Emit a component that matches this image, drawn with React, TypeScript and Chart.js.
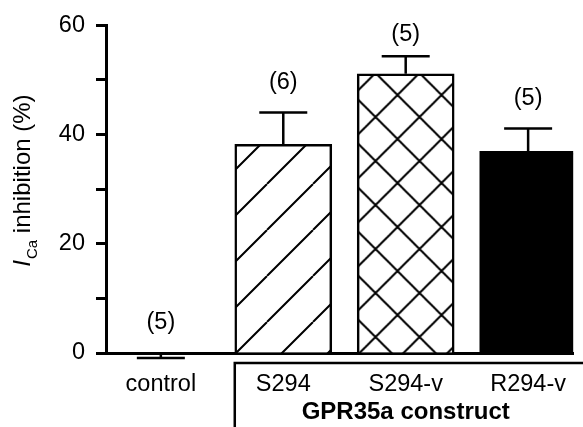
import React, { useEffect, useRef } from 'react';
import { Chart, registerables } from 'chart.js';

Chart.register(...registerables);

// ---- data ----
const categories = ['control', 'S294', 'S294-v', 'R294-v'];
const meanInhibition = [-0.2, 38.2, 51.1, 36.9];
const semInhibition = [0.7, 5.8, 3.2, 4.2];
const cellCounts = [5, 6, 5, 5];
const groupTitle = 'GPR35a construct';
const groupMembers = ['S294', 'S294-v', 'R294-v'];
const yMin = 0;
const yMax = 60;
const yStep = 10;
const yLabelStep = 20;

const FONT = '"Liberation Sans", Arial, Helvetica, sans-serif';

function makeHatch(size: number, lw: number, slash: boolean, back: boolean, dx: number, dy: number) {
  const c = document.createElement('canvas');
  c.width = size;
  c.height = size;
  const g = c.getContext('2d')!;
  g.fillStyle = '#ffffff';
  g.fillRect(0, 0, size, size);
  g.strokeStyle = '#000000';
  g.lineWidth = lw;
  g.beginPath();
  for (const k of [-1, 0, 1]) {
    if (slash) {
      g.moveTo(k * size, size);
      g.lineTo(k * size + size, 0);
    }
    if (back) {
      g.moveTo(k * size, 0);
      g.lineTo(k * size + size, size);
    }
  }
  g.stroke();
  const p = g.createPattern(c, 'repeat')!;
  try {
    p.setTransform(new DOMMatrix().translate(dx, dy));
  } catch (e) {
    /* ignore */
  }
  return p;
}

export default function App() {
  const ref = useRef<HTMLCanvasElement | null>(null);

  useEffect(() => {
    const canvas = ref.current;
    if (!canvas) return;

    const fills = [
      '#ffffff',
      makeHatch(46, 2, true, false, 37, 0),
      makeHatch(44, 2, true, true, 1.5, 7),
      '#000000',
    ];

    const overlay = {
      id: 'overlay',
      afterDatasetsDraw(chart: any) {
        const { ctx, scales } = chart;
        const y = scales.y;
        const meta = chart.getDatasetMeta(0);
        ctx.save();
        ctx.strokeStyle = '#000';
        ctx.lineWidth = 2.5;
        meta.data.forEach((bar: any, i: number) => {
          const m = meanInhibition[i];
          const e = semInhibition[i];
          const dir = m < 0 ? -1 : 1;
          const y0 = y.getPixelForValue(m);
          const y1 = y.getPixelForValue(m + dir * e);
          ctx.beginPath();
          ctx.moveTo(bar.x, y0);
          ctx.lineTo(bar.x, y1);
          ctx.moveTo(bar.x - 24, y1);
          ctx.lineTo(bar.x + 24, y1);
          ctx.stroke();
        });
        ctx.restore();
      },
      afterDraw(chart: any) {
        const { ctx, scales, chartArea } = chart;
        const x = scales.x;
        const y = scales.y;
        const meta = chart.getDatasetMeta(0);
        ctx.save();
        // n labels
        ctx.fillStyle = '#000';
        ctx.font = `23.5px ${FONT}`;
        ctx.textAlign = 'center';
        ctx.textBaseline = 'middle';
        meta.data.forEach((bar: any, i: number) => {
          const m = meanInhibition[i];
          const e = semInhibition[i];
          const topVal = m < 0 ? 0 : m + e;
          const cy = Math.max(35, y.getPixelForValue(topVal) - 30);
          ctx.fillText(`(${cellCounts[i]})`, bar.x, cy);
        });

        // group bracket
        const firstIdx = categories.indexOf(groupMembers[0]);
        const firstBar: any = meta.data[firstIdx];
        const bx = firstBar.x - firstBar.width / 2;
        const by = chartArea.bottom + 10;
        ctx.strokeStyle = '#000';
        ctx.lineWidth = 2.5;
        ctx.beginPath();
        ctx.moveTo(chart.width + 2, by);
        ctx.lineTo(bx, by);
        ctx.lineTo(bx, chart.height + 2);
        ctx.stroke();

        // group title
        const midIdx = categories.indexOf(groupMembers[Math.floor(groupMembers.length / 2)]);
        ctx.font = `bold 24px ${FONT}`;
        ctx.textBaseline = 'alphabetic';
        ctx.fillText(groupTitle, x.getPixelForValue(midIdx), chartArea.bottom + 66);

        // y-axis title: I_Ca inhibition (%)
        ctx.translate(30, (chartArea.top + chartArea.bottom) / 2 - 8);
        ctx.rotate(-Math.PI / 2);
        ctx.textAlign = 'left';
        const fMain = `24px ${FONT}`;
        const fItal = `italic 24px ${FONT}`;
        const fSub = `15px ${FONT}`;
        ctx.font = fItal;
        const w1 = ctx.measureText('I').width;
        ctx.font = fSub;
        const w2 = ctx.measureText('Ca').width;
        ctx.font = fMain;
        const w3 = ctx.measureText(' inhibition (%)').width;
        let px = -(w1 + w2 + w3) / 2;
        ctx.font = fItal;
        ctx.fillText('I', px, 0);
        px += w1 + 1;
        ctx.font = fSub;
        ctx.fillText('Ca', px, 7);
        px += w2;
        ctx.font = fMain;
        ctx.fillText(' inhibition (%)', px, 0);
        ctx.restore();
      },
    };

    const chart = new Chart(canvas, {
      type: 'bar',
      data: {
        datasets: [
          {
            data: meanInhibition.map((v, i) => ({ x: i, y: v })),
            backgroundColor: fills as any,
            borderColor: '#000000',
            borderWidth: 2.5,
            barThickness: 97,
          },
        ],
      },
      options: {
        responsive: false,
        animation: false,
        events: [],
        layout: { padding: { top: 23, right: 0, bottom: 0, left: 0 } },
        plugins: {
          legend: { display: false },
          tooltip: { enabled: false },
        },
        scales: {
          x: {
            type: 'linear',
            min: -0.448,
            max: 3.368,
            offset: false,
            z: 1,
            afterBuildTicks: (scale: any) => {
              scale.ticks = categories.map((_, i) => ({ value: i }));
            },
            afterFit: (scale: any) => {
              scale.height = 74;
            },
            grid: { display: false, drawTicks: false },
            border: { display: true, color: '#000', width: 3 },
            ticks: {
              autoSkip: false,
              maxRotation: 0,
              minRotation: 0,
              padding: 17,
              color: '#000',
              font: { family: FONT, size: 23.5 },
              callback: (v: any) => categories[Math.round(Number(v))] ?? '',
            },
          },
          y: {
            min: yMin,
            max: yMax,
            afterFit: (scale: any) => {
              scale.width = 106;
            },
            grid: {
              display: true,
              drawOnChartArea: false,
              drawTicks: true,
              tickLength: 10,
              tickWidth: 3,
              tickColor: '#000',
              color: '#000',
            },
            border: { display: true, color: '#000', width: 3 },
            ticks: {
              stepSize: yStep,
              padding: 11,
              color: '#000',
              font: { family: FONT, size: 23.5 },
              callback: (v: any) => (Number(v) % yLabelStep === 0 ? String(v) : ''),
            },
          },
        },
      },
      plugins: [overlay],
    } as any);

    return () => chart.destroy();
  }, []);

  return (
    <div style={{ position: 'absolute', left: 0, top: 0, width: 583, height: 427, background: '#fff', overflow: 'hidden' }}>
      <canvas ref={ref} width={583} height={427} style={{ display: 'block' }} />
    </div>
  );
}
